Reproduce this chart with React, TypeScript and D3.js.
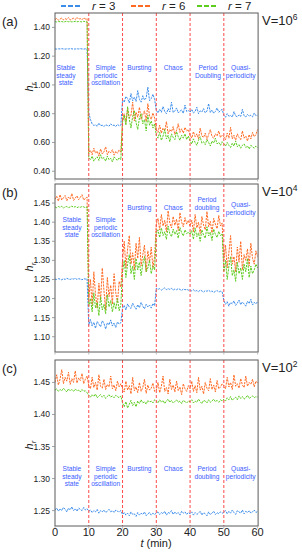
import React from 'react';
import * as d3 from 'd3';

// sampling step (min) of all series
const STEP = 0.5;

// ---------- Panel (a): V = 10^6 ----------
const A_R3 = [
  1.250,1.249,1.251,1.250,1.252,1.250,1.249,1.251,1.250,1.252,1.251,1.249,1.250,1.251,1.250,1.252,1.250,1.249,1.251,1.250,
  0.805,0.760,0.728,0.718,0.722,0.712,0.735,0.716,0.720,0.710,0.724,0.718,0.713,0.730,0.717,0.721,0.711,0.726,0.716,0.719,
  0.895,0.880,0.920,0.905,0.875,0.940,0.890,0.915,0.885,0.960,0.900,0.880,0.925,0.895,0.910,0.985,0.890,0.905,0.935,0.900,
  0.825,0.805,0.830,0.810,0.850,0.815,0.800,0.835,0.812,0.880,0.808,0.820,0.840,0.805,0.818,0.826,0.802,0.860,0.815,0.822,
  0.810,0.830,0.805,0.815,0.845,0.800,0.820,0.812,0.835,0.806,0.818,0.870,0.808,0.825,0.803,0.816,0.840,0.810,0.822,0.830,
  0.790,0.775,0.800,0.782,0.788,0.776,0.815,0.784,0.779,0.792,0.781,0.830,0.786,0.777,0.795,0.783,0.789,0.778,0.805,0.786,0.790,
];
const A_R6 = [
  1.455,1.462,1.450,1.458,1.465,1.452,1.460,1.456,1.468,1.451,1.459,1.463,1.454,1.470,1.457,1.461,1.453,1.466,1.458,1.462,
  0.530,0.545,0.515,0.560,0.525,0.540,0.505,0.555,0.520,0.535,0.570,0.515,0.540,0.528,0.550,0.512,0.538,0.525,0.548,0.532,
  0.760,0.800,0.740,0.830,0.770,0.790,0.880,0.750,0.810,0.775,0.845,0.760,0.795,0.820,0.745,0.870,0.785,0.760,0.805,0.770,
  0.690,0.670,0.720,0.665,0.700,0.680,0.745,0.660,0.690,0.675,0.710,0.655,0.685,0.730,0.670,0.695,0.665,0.705,0.680,0.690,
  0.650,0.630,0.675,0.640,0.660,0.625,0.700,0.645,0.635,0.665,0.620,0.655,0.690,0.640,0.630,0.660,0.645,0.680,0.635,0.650,
  0.640,0.620,0.665,0.630,0.705,0.625,0.650,0.615,0.660,0.635,0.620,0.680,0.630,0.645,0.610,0.655,0.625,0.670,0.640,0.655,0.690,
];
const A_R7 = [
  1.440,1.438,1.442,1.439,1.441,1.437,1.440,1.443,1.439,1.441,1.438,1.440,1.442,1.439,1.441,1.440,1.438,1.442,1.440,1.439,
  0.495,0.480,0.505,0.470,0.490,0.500,0.475,0.515,0.485,0.495,0.470,0.505,0.480,0.490,0.465,0.500,0.485,0.475,0.495,0.480,
  0.740,0.790,0.720,0.850,0.760,0.700,0.780,0.820,0.740,0.690,0.770,0.800,0.730,0.760,0.680,0.790,0.720,0.750,0.700,0.730,
  0.650,0.630,0.670,0.615,0.645,0.690,0.625,0.650,0.605,0.660,0.635,0.620,0.675,0.640,0.615,0.650,0.630,0.660,0.620,0.645,
  0.610,0.590,0.625,0.600,0.580,0.615,0.640,0.595,0.605,0.585,0.620,0.600,0.575,0.610,0.595,0.630,0.590,0.600,0.580,0.605,
  0.590,0.575,0.600,0.580,0.565,0.595,0.575,0.610,0.570,0.585,0.560,0.580,0.590,0.565,0.575,0.555,0.580,0.570,0.560,0.575,0.565,
];

// ---------- Panel (b): V = 10^4 ----------
const B_R3 = [
  1.251,1.250,1.252,1.251,1.249,1.252,1.250,1.253,1.251,1.250,1.252,1.251,1.253,1.250,1.252,1.251,1.249,1.252,1.251,1.252,
  1.130,1.145,1.128,1.138,1.122,1.140,1.133,1.126,1.142,1.135,1.120,1.137,1.131,1.144,1.128,1.136,1.124,1.139,1.133,1.137,
  1.175,1.182,1.170,1.186,1.178,1.174,1.188,1.179,1.172,1.184,1.176,1.190,1.180,1.173,1.185,1.178,1.183,1.175,1.187,1.181,
  1.227,1.224,1.226,1.222,1.225,1.228,1.223,1.226,1.224,1.227,1.222,1.225,1.223,1.226,1.224,1.221,1.225,1.223,1.224,1.222,
  1.222,1.220,1.223,1.219,1.221,1.218,1.222,1.220,1.217,1.221,1.219,1.222,1.218,1.220,1.216,1.219,1.221,1.217,1.219,1.218,
  1.195,1.185,1.192,1.180,1.190,1.186,1.194,1.182,1.188,1.196,1.184,1.191,1.186,1.180,1.193,1.187,1.198,1.183,1.190,1.186,1.192,
];
const B_R6 = [
  1.460,1.468,1.455,1.472,1.458,1.464,1.470,1.456,1.466,1.461,1.475,1.457,1.463,1.469,1.459,1.465,1.472,1.458,1.462,1.466,
  1.200,1.250,1.180,1.270,1.210,1.175,1.240,1.195,1.280,1.220,1.170,1.255,1.205,1.235,1.185,1.265,1.215,1.190,1.245,1.230,
  1.300,1.350,1.280,1.330,1.365,1.290,1.320,1.275,1.345,1.305,1.360,1.285,1.315,1.340,1.270,1.325,1.295,1.335,1.280,1.310,
  1.395,1.410,1.380,1.420,1.390,1.405,1.375,1.430,1.398,1.385,1.415,1.392,1.408,1.378,1.425,1.400,1.388,1.412,1.395,1.405,
  1.390,1.405,1.375,1.420,1.385,1.400,1.370,1.415,1.392,1.380,1.428,1.388,1.402,1.372,1.410,1.395,1.383,1.418,1.390,1.398,
  1.300,1.340,1.280,1.320,1.365,1.290,1.310,1.270,1.335,1.295,1.350,1.275,1.315,1.300,1.330,1.285,1.345,1.305,1.290,1.325,1.310,
];
const B_R7 = [
  1.440,1.438,1.441,1.439,1.442,1.437,1.440,1.441,1.438,1.440,1.442,1.439,1.441,1.438,1.440,1.439,1.441,1.440,1.438,1.440,
  1.180,1.200,1.165,1.215,1.175,1.190,1.155,1.205,1.170,1.185,1.160,1.210,1.178,1.195,1.165,1.190,1.172,1.200,1.168,1.185,
  1.270,1.300,1.255,1.290,1.315,1.265,1.285,1.250,1.305,1.275,1.295,1.260,1.290,1.310,1.270,1.280,1.300,1.265,1.285,1.275,
  1.370,1.380,1.360,1.385,1.365,1.375,1.355,1.390,1.370,1.362,1.382,1.368,1.378,1.358,1.386,1.372,1.364,1.380,1.370,1.374,
  1.368,1.378,1.355,1.385,1.362,1.372,1.350,1.380,1.366,1.358,1.388,1.364,1.374,1.352,1.382,1.368,1.360,1.376,1.365,1.370,
  1.270,1.300,1.250,1.285,1.310,1.260,1.275,1.245,1.295,1.265,1.280,1.250,1.290,1.270,1.305,1.255,1.285,1.265,1.275,1.290,1.280,
];

// ---------- Panel (c): V = 10^2 ----------
const C_R3 = [
  1.251,1.254,1.249,1.253,1.250,1.255,1.252,1.248,1.254,1.251,1.256,1.250,1.253,1.249,1.254,1.252,1.250,1.255,1.251,1.253,
  1.249,1.251,1.247,1.250,1.248,1.252,1.246,1.250,1.248,1.251,1.247,1.249,1.252,1.248,1.250,1.247,1.251,1.249,1.248,1.250,
  1.244,1.247,1.243,1.246,1.242,1.248,1.244,1.245,1.241,1.247,1.243,1.246,1.244,1.248,1.242,1.245,1.247,1.243,1.246,1.244,
  1.246,1.248,1.244,1.247,1.245,1.249,1.243,1.247,1.246,1.250,1.244,1.248,1.245,1.247,1.243,1.249,1.246,1.248,1.244,1.247,
  1.245,1.248,1.243,1.247,1.244,1.246,1.249,1.243,1.247,1.245,1.242,1.248,1.244,1.246,1.249,1.244,1.247,1.245,1.248,1.246,
  1.247,1.250,1.245,1.249,1.246,1.251,1.247,1.244,1.250,1.248,1.246,1.251,1.245,1.249,1.247,1.250,1.246,1.248,1.251,1.247,1.249,
];
const C_R6 = [
  1.450,1.462,1.446,1.455,1.470,1.448,1.458,1.452,1.466,1.447,1.456,1.450,1.468,1.449,1.457,1.453,1.464,1.448,1.455,1.460,
  1.445,1.440,1.458,1.442,1.450,1.438,1.462,1.444,1.441,1.455,1.439,1.447,1.443,1.460,1.440,1.446,1.437,1.452,1.443,1.448,
  1.440,1.435,1.452,1.438,1.445,1.432,1.458,1.437,1.443,1.434,1.450,1.436,1.442,1.455,1.433,1.446,1.438,1.441,1.449,1.436,
  1.438,1.450,1.434,1.444,1.460,1.436,1.442,1.432,1.455,1.439,1.446,1.435,1.452,1.437,1.443,1.431,1.448,1.440,1.436,1.445,
  1.440,1.452,1.436,1.445,1.434,1.458,1.438,1.444,1.432,1.450,1.441,1.437,1.456,1.439,1.446,1.435,1.453,1.440,1.443,1.448,
  1.445,1.440,1.458,1.443,1.450,1.439,1.462,1.444,1.448,1.441,1.456,1.446,1.442,1.460,1.444,1.450,1.447,1.455,1.443,1.452,1.449,
];
const C_R7 = [
  1.438,1.440,1.436,1.439,1.437,1.441,1.438,1.435,1.440,1.437,1.439,1.436,1.440,1.437,1.438,1.435,1.439,1.436,1.437,1.434,
  1.430,1.427,1.431,1.428,1.432,1.426,1.429,1.431,1.427,1.430,1.425,1.428,1.431,1.427,1.429,1.426,1.430,1.428,1.426,1.429,
  1.418,1.412,1.420,1.410,1.416,1.422,1.414,1.419,1.412,1.421,1.417,1.423,1.418,1.420,1.416,1.422,1.419,1.421,1.418,1.423,
  1.421,1.418,1.423,1.419,1.422,1.417,1.421,1.424,1.419,1.422,1.418,1.420,1.423,1.419,1.421,1.417,1.422,1.420,1.418,1.421,
  1.420,1.423,1.418,1.421,1.419,1.424,1.420,1.417,1.422,1.421,1.418,1.423,1.419,1.421,1.424,1.420,1.422,1.419,1.423,1.421,
  1.424,1.421,1.426,1.423,1.428,1.422,1.425,1.427,1.423,1.429,1.425,1.428,1.424,1.426,1.430,1.425,1.427,1.429,1.426,1.428,1.427,
];

// ---------- labels / ticks ----------
const SERIES_NAMES = ['3', '6', '7'];
const SERIES_COLORS = ['#3b8dea', '#ff6a22', '#5ccc1e'];
const X_TICKS = [0, 10, 20, 30, 40, 50, 60];
const REGIME_BOUNDS = [10, 20, 30, 40, 50];
const TICKS_A = [0.4, 0.6, 0.8, 1.0, 1.2, 1.4];
const TICKS_B = [1.1, 1.15, 1.2, 1.25, 1.3, 1.35, 1.4, 1.45];
const TICKS_C = [1.25, 1.3, 1.35, 1.4, 1.45];
const REGIMES_A = [['Stable', 'steady', 'state'], ['Simple', 'periodic', 'oscillation'], ['Bursting'], ['Chaos'], ['Period', 'Doubling'], ['Quasi-', 'periodicity']];
const REGIMES_BC = [['Stable', 'steady', 'state'], ['Simple', 'periodic', 'oscillation'], ['Bursting'], ['Chaos'], ['Period', 'doubling'], ['Quasi-', 'periodicity']];

const FONT = 'Liberation Sans, Arial, Helvetica, sans-serif';
const X0 = 55;
const X1 = 257.6;

const PANELS = [
  { tag: '(a)', exp: '6', top: 13, bottom: 179, domain: [0.346, 1.5], ticks: TICKS_A, series: [A_R3, A_R6, A_R7], regimes: REGIMES_A, regY: [55, 55, 55, 55, 55, 55], regDx: [-6, 0, 0, 0, 1, 0], hY: 87, xLabels: false },
  { tag: '(b)', exp: '4', top: 184, bottom: 352, domain: [1.06, 1.5], ticks: TICKS_B, series: [B_R3, B_R6, B_R7], regimes: REGIMES_BC, regY: [36, 36, 24, 24, 16, 21], regDx: [0, 0, 0, 0, 0, 0], hY: 267, xLabels: false },
  { tag: '(c)', exp: '2', top: 360, bottom: 526, domain: [1.226, 1.485], ticks: TICKS_C, series: [C_R3, C_R6, C_R7], regimes: REGIMES_BC, regY: [109, 109, 109, 109, 109, 109], regDx: [0, 0, 0, 0, 0, 0], hY: 445, xLabels: true },
];

const x = d3.scaleLinear().domain([0, 60]).range([X0, X1]);

function Panel({ p }: { p: any }) {
  const y = d3.scaleLinear().domain(p.domain).range([p.bottom, p.top]);
  const line = d3.line<number>().x((_, i) => x(i * STEP)).y((v) => y(v));
  const mids = [5, 15, 25, 35, 45, 55];
  return (
    <g>
      <defs>
        <clipPath id={'clip' + p.exp}>
          <rect x={X0} y={p.top} width={X1 - X0 + 0.5} height={p.bottom - p.top} />
        </clipPath>
      </defs>
      <g clipPath={`url(#clip${p.exp})`}>
        {p.series.map((s: number[], i: number) => (
          <path key={i} d={line(s) || ''} fill="none" stroke={SERIES_COLORS[i]} strokeWidth={1} strokeDasharray="2.2,1" />
        ))}
      </g>
      {REGIME_BOUNDS.map((b) => (
        <line key={b} x1={x(b)} x2={x(b)} y1={p.top} y2={p.bottom} stroke="#ff4a4a" strokeWidth={1} strokeDasharray="3,2" />
      ))}
      {p.regimes.map((lines: string[], i: number) => (
        <text key={i} x={x(mids[i]) + p.regDx[i]} y={p.top + p.regY[i]} textAnchor="middle" fontFamily={FONT} fontSize={6.6} fill="#3a5cff">
          {lines.map((l, j) => (
            <tspan key={j} x={x(mids[i]) + p.regDx[i]} dy={j === 0 ? 2.3 : 7.5}>{l}</tspan>
          ))}
        </text>
      ))}
      <rect x={X0} y={p.top} width={X1 - X0 + 0.5} height={p.bottom - p.top} fill="none" stroke="#5a5a5a" strokeWidth={1} />
      {p.ticks.map((t: number) => (
        <g key={t}>
          <line x1={X0 - 3} x2={X0} y1={y(t)} y2={y(t)} stroke="#888" strokeWidth={0.8} />
          <text x={X0 - 5} y={y(t) + 3} textAnchor="end" fontFamily={FONT} fontSize={8.5} fill="#222">{d3.format('.2f')(t)}</text>
        </g>
      ))}
      {X_TICKS.map((t) => (
        <line key={t} x1={x(t)} x2={x(t)} y1={p.bottom} y2={p.bottom + 2.5} stroke="#aaa" strokeWidth={0.8} />
      ))}
      {p.xLabels && X_TICKS.map((t) => (
        <text key={'l' + t} x={x(t)} y={536} textAnchor="middle" fontFamily={FONT} fontSize={11} fill="#222">{t}</text>
      ))}
      <text x={2} y={p.top + 13} fontFamily={FONT} fontSize={13} fill="#222">{p.tag}</text>
      <text x={262} y={p.top + 12} fontFamily={FONT} fontSize={13} fill="#222">
        V=10<tspan dy={-5} fontSize={8.5}>{p.exp}</tspan>
      </text>
      <text transform={`translate(33,${p.hY}) rotate(-90)`} textAnchor="middle" fontFamily={FONT} fontSize={11} fill="#222">
        <tspan fontStyle="italic">h</tspan>
        <tspan fontStyle="italic" fontSize={8} dy={3}>r</tspan>
      </text>
    </g>
  );
}

export default function App() {
  const legendX = [61, 131, 197];
  return (
    <svg width={302} height={555} style={{ position: 'absolute', left: 0, top: 0, background: '#fff' }}>
      <rect width={302} height={555} fill="#fff" />
      {SERIES_NAMES.map((n, i) => (
        <g key={n}>
          <line x1={legendX[i]} x2={legendX[i] + 20} y1={6} y2={6} stroke={SERIES_COLORS[i]} strokeWidth={2} strokeDasharray="5,2" />
          <text x={legendX[i] + 31} y={10} fontFamily={FONT} fontSize={11.5} fill="#222">
            <tspan fontStyle="italic">r</tspan> = {n}
          </text>
        </g>
      ))}
      {PANELS.map((p) => <Panel key={p.tag} p={p} />)}
      <text x={156} y={547} textAnchor="middle" fontFamily={FONT} fontSize={11} fill="#222">
        <tspan fontStyle="italic">t</tspan> (min)
      </text>
    </svg>
  );
}
